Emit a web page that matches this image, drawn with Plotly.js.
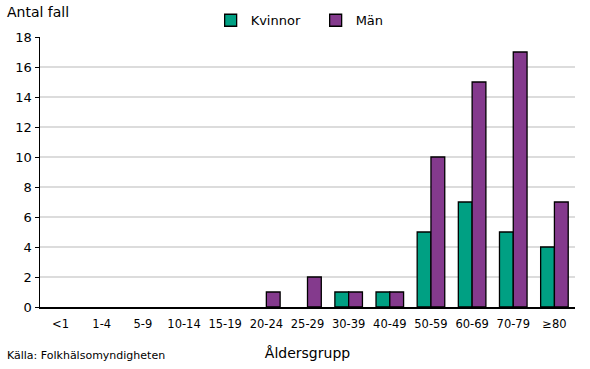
<!DOCTYPE html>
<html><head><meta charset="utf-8">
<script src="https://cdn.plot.ly/plotly-3.0.1.min.js"></script>
<style>html,body{margin:0;padding:0;background:#fff}#c{width:590px;height:369px}</style>
</head><body><div id="c"></div>
<script>
const categories = ['<1','1-4','5-9','10-14','15-19','20-24','25-29','30-39','40-49','50-59','60-69','70-79','≥80'];
const kvinnor = [0,0,0,0,0,0,0,1,1,5,7,5,4];
const man = [0,0,0,0,0,1,2,1,1,10,15,17,7];
const seriesNames = ['Kvinnor','Män'];
const yTicks = [0,2,4,6,8,10,12,14,16,18];

const hideZero = v => (v === 0 ? null : v);
const font = {family:'DejaVu Sans, Verdana, sans-serif', size:12, color:'#000'};
const traces = [
  {type:'bar', name:seriesNames[0], x:categories, y:kvinnor.map(hideZero), marker:{color:'#00A083', line:{color:'#000', width:1.3}}},
  {type:'bar', name:seriesNames[1], x:categories, y:man.map(hideZero), marker:{color:'#843A8D', line:{color:'#000', width:1.3}}}
];
const layout = {
  width:590, height:369, margin:{l:40, r:15, t:37, b:62},
  paper_bgcolor:'#fff', plot_bgcolor:'#fff', font:font,
  barmode:'group', bargap:0.33, bargroupgap:0,
  showlegend:true,
  legend:{orientation:'h', xref:'container', yref:'container', x:0.535, xanchor:'center', y:0.945, yanchor:'middle',
    font:{family:font.family, size:13}, itemwidth:30, tracegroupgap:0, entrywidth:60},
  xaxis:{type:'category', showline:true, linecolor:'#000', linewidth:1.5, ticks:'', showgrid:false, tickfont:{size:11.5}, ticklabelstandoff:6,
    title:{text:'Åldersgrupp', font:{size:14}, standoff:18}},
  yaxis:{range:[0,18], tickvals:yTicks, showline:true, linecolor:'#000', linewidth:1.5, ticks:'outside', ticklen:4, tickcolor:'#000',
    gridcolor:'#dcdcdc', gridwidth:1.2, zeroline:false, tickfont:{size:13}},
  annotations:[
    {text:'Antal fall', xref:'paper', yref:'paper', x:-0.065, y:1.093, xanchor:'left', yanchor:'middle', showarrow:false, font:{size:14}},
    {text:'Källa: Folkhälsomyndigheten', xref:'paper', yref:'paper', x:-0.065, y:-0.178, xanchor:'left', yanchor:'middle', showarrow:false, font:{size:11}}
  ]
};
Plotly.newPlot('c', traces, layout, {displayModeBar:false, staticPlot:true});
</script></body></html>
